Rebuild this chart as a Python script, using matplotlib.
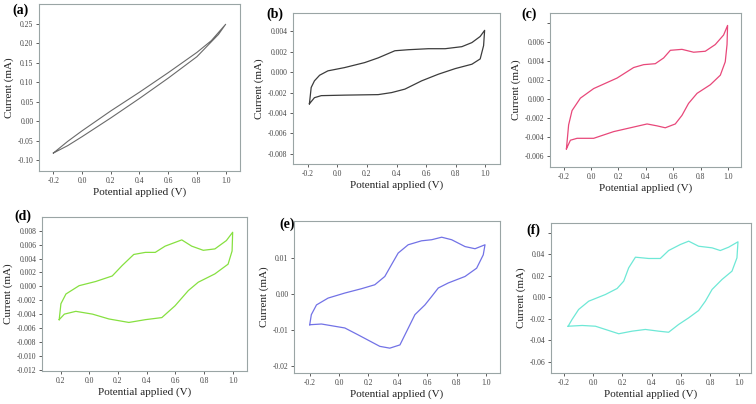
import matplotlib
matplotlib.use("Agg")
import matplotlib.pyplot as plt

plt.rcParams["font.family"] = ["Liberation Serif", "DejaVu Serif"]

# (a)
a_x = [-0.2, -0.1, 0.0, 0.2, 0.4, 0.6, 0.8, 0.9, 1.0, 0.95, 0.8, 0.6, 0.4, 0.2, 0.0, -0.1, -0.2]
a_y = [-0.082, -0.052, -0.025, 0.026, 0.074, 0.124, 0.176, 0.206, 0.248,
       0.222, 0.165, 0.110, 0.058, 0.008, -0.040, -0.063, -0.082]

# (b)
b_x = [-0.189, -0.177, -0.155, -0.12, -0.064, 0.049, 0.185, 0.276, 0.389, 0.479, 0.615,
       0.729, 0.842, 0.91, 0.966, 0.996,
       0.989, 0.966, 0.91, 0.797, 0.683, 0.57, 0.457, 0.367, 0.276, 0.049, -0.109,
       -0.155, -0.189]
b_y = [-0.0031, -0.0015, -0.00085, -0.0003, 0.00013, 0.00045, 0.00094, 0.0014, 0.0021,
       0.0022, 0.0023, 0.0023, 0.0025, 0.0029, 0.0035, 0.0041,
       0.0026, 0.0013, 0.00078, 0.00035, -0.0002, -0.00085, -0.00166, -0.0020, -0.0022,
       -0.00225, -0.0023, -0.0025, -0.0031]

# (c)
c_x = [-0.18, -0.164, -0.139, -0.078, 0.019, 0.19, 0.311, 0.384, 0.469, 0.53, 0.579,
       0.664, 0.749, 0.834, 0.907, 0.968, 0.997,
       0.993, 0.98, 0.944, 0.871, 0.774, 0.712, 0.664, 0.615, 0.542, 0.482, 0.409,
       0.287, 0.165, 0.019, -0.102, -0.151, -0.18]
c_y = [-0.0052, -0.0027, -0.0012, 0.0001, 0.0011, 0.0022, 0.0033, 0.0036, 0.0037,
       0.0043, 0.0051, 0.0052, 0.0049, 0.0050, 0.0057, 0.0067, 0.0077,
       0.0057, 0.0039, 0.0025, 0.0015, 0.0006, -0.00045, -0.0017, -0.0026, -0.0030,
       -0.0028, -0.0026, -0.0030, -0.0034, -0.0041, -0.0041, -0.0043, -0.0052]

# (d)
d_x = [-0.21, -0.198, -0.163, -0.071, 0.044, 0.16, 0.229, 0.31, 0.391, 0.46, 0.529,
       0.645, 0.714, 0.795, 0.876, 0.956, 1.0,
       0.996, 0.968, 0.876, 0.76, 0.691, 0.598, 0.506, 0.391, 0.276, 0.137, 0.022,
       -0.094, -0.174, -0.21]
d_y = [-0.0048, -0.0025, -0.0011, 0.0001, 0.0007, 0.0015, 0.0030, 0.0046, 0.0049,
       0.0049, 0.0058, 0.0067, 0.0058, 0.0052, 0.0054, 0.0066, 0.0078,
       0.0051, 0.0032, 0.0018, 0.0006, -0.0006, -0.0028, -0.0045, -0.0048, -0.0052,
       -0.0047, -0.0040, -0.0036, -0.0040, -0.0048]

# (e)
e_x = [-0.2, -0.189, -0.154, -0.075, 0.039, 0.152, 0.243, 0.311, 0.357, 0.402, 0.47,
       0.561, 0.63, 0.698, 0.766, 0.857, 0.925, 0.993,
       0.981, 0.936, 0.857, 0.743, 0.675, 0.63, 0.584, 0.516, 0.459, 0.414, 0.345,
       0.277, 0.129, 0.039, -0.12, -0.2]
e_y = [-0.0086, -0.0058, -0.0031, -0.0012, 0.0002, 0.0014, 0.0025, 0.0048, 0.0081,
       0.0113, 0.0136, 0.0147, 0.0150, 0.0157, 0.0150, 0.0131, 0.0125, 0.0136,
       0.0108, 0.0071, 0.0048, 0.0030, 0.0016, -0.00075, -0.0031, -0.0058, -0.0105,
       -0.0142, -0.0151, -0.0146, -0.0114, -0.0095, -0.0084, -0.0086]

# (f)
f_x = [-0.17, -0.143, -0.098, -0.029, 0.085, 0.165, 0.21, 0.244, 0.29, 0.381, 0.46,
       0.517, 0.597, 0.654, 0.722, 0.814, 0.87, 0.927, 0.991,
       0.984, 0.95, 0.882, 0.814, 0.768, 0.722, 0.654, 0.585, 0.517, 0.449, 0.358,
       0.267, 0.176, 0.085, 0.017, -0.074, -0.17]
f_y = [-0.027, -0.0207, -0.0114, -0.0037, 0.0025, 0.0081, 0.0149, 0.0273, 0.0372,
       0.0360, 0.0360, 0.0434, 0.0490, 0.0521, 0.0474, 0.0459, 0.0434, 0.0465, 0.0515,
       0.0366, 0.0242, 0.0165, 0.0072, -0.0037, -0.0124, -0.0192, -0.0254, -0.0326,
       -0.0316, -0.0300, -0.0316, -0.0340, -0.0300, -0.0270, -0.0263, -0.027]

x_ticks = [-0.2, 0.0, 0.2, 0.4, 0.6, 0.8, 1.0]
x_labels = ["-0.2", "0.0", "0.2", "0.4", "0.6", "0.8", "1.0"]
x_labels_d = ["0.2", "0.0", "0.2", "0.4", "0.6", "0.8", "1.0"]

W, H = 756, 404


def add_panel(fig, box, x, y, color, xlim, ylim, yticks, ylabels, tag, tag_xy,
              xlabels=x_labels, lw=0.9, ylab="Current (mA)"):
    l, r, t, b = box
    ax = fig.add_axes([l / W, 1 - b / H, (r - l) / W, (b - t) / H])
    ax.plot(x, y, color=color, linewidth=lw)
    ax.set_xlim(*xlim)
    ax.set_ylim(*ylim)
    ax.set_xticks(x_ticks)
    ax.set_xticklabels(xlabels)
    ax.set_yticks(yticks)
    ax.set_yticklabels(ylabels)
    for s in ax.spines.values():
        s.set_color("#9aa5a5")
        s.set_linewidth(0.8)
    ax.tick_params(labelsize=5.5, length=2, width=0.6, colors="#444444", pad=2)
    ax.set_xlabel("Potential applied (V)", fontsize=8, labelpad=2, color="#222222")
    ax.set_ylabel(ylab, fontsize=8, labelpad=3, color="#222222")
    fig.text(tag_xy[0] / W, 1 - tag_xy[1] / H, tag, fontsize=10, fontweight="bold",
             ha="left", va="center")
    return ax


fig = plt.figure(figsize=(7.56, 4.04), dpi=100)

add_panel(fig, (39, 240, 4, 171), a_x, a_y, "#6a6a6a", (-0.3, 1.1), (-0.128, 0.30),
          [-0.10, -0.05, 0.0, 0.05, 0.10, 0.15, 0.20, 0.25],
          ["-0.10", "-0.05", "0.00", "0.05", "0.10", "0.15", "0.20", "0.25"],
          "(a)", (12, 10), lw=0.8)

add_panel(fig, (293, 500, 13, 164), b_x, b_y, "#3c3c3c", (-0.3, 1.1), (-0.009, 0.0058),
          [-0.008, -0.006, -0.004, -0.002, 0.0, 0.002, 0.004],
          ["-0.008", "-0.006", "-0.004", "-0.002", "0.000", "0.002", "0.004"],
          "(b)", (266, 14))

add_panel(fig, (550, 741, 13, 167), c_x, c_y, "#e8487a", (-0.3, 1.095), (-0.0071, 0.009),
          [-0.006, -0.004, -0.002, 0.0, 0.002, 0.004, 0.006, 0.008],
          ["-0.006", "-0.004", "-0.002", "0.000", "0.002", "0.004", "0.006", ""],
          "(c)", (521, 14))

add_panel(fig, (42, 247, 217, 371), d_x, d_y, "#86e040", (-0.33, 1.1), (-0.0122, 0.010),
          [-0.012, -0.010, -0.008, -0.006, -0.004, -0.002, 0.0, 0.002, 0.004, 0.006, 0.008],
          ["-0.012", "-0.010", "-0.008", "-0.006", "-0.004", "-0.002", "0.000", "0.002",
           "0.004", "0.006", "0.008"],
          "(d)", (14, 216), xlabels=x_labels_d)

add_panel(fig, (294, 500, 221, 373), e_x, e_y, "#7272e6", (-0.307, 1.095), (-0.022, 0.0202),
          [-0.02, -0.01, 0.0, 0.01],
          ["-0.02", "-0.01", "0.00", "0.01"],
          "(e)", (279, 224))

add_panel(fig, (551, 751, 223, 373), f_x, f_y, "#6ee8d6", (-0.287, 1.08), (-0.0705, 0.069),
          [-0.06, -0.04, -0.02, 0.0, 0.02, 0.04, 0.06],
          ["-0.06", "-0.04", "-0.02", "0.00", "0.02", "0.04", ""],
          "(f)", (526, 230))

fig.savefig("out.png", dpi=100)
